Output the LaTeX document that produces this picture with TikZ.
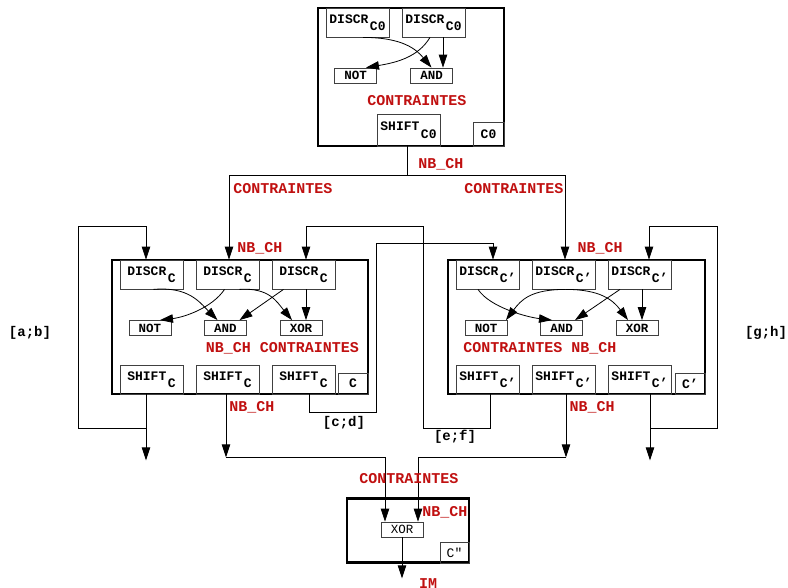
\documentclass[tikz,border=0pt]{standalone}
\usepackage{fontspec}
\setmonofont{Liberation Mono}
\usepackage{tikz}
\usetikzlibrary{arrows.meta}
\definecolor{rougefonce}{RGB}{192,16,16}

\tikzset{
  fleche/.style={-{Triangle[length=13pt,width=8.5pt]}, line width=0.8pt},
  lien/.style={line width=0.8pt},
  cadre/.style={draw, line width=2.6pt, inner sep=0pt},
  bloc/.style={draw=black!75, line width=0.8pt, inner sep=0pt,
    minimum width=63pt, minimum height=29pt, font=\fontsize{13}{13}\selectfont\ttfamily\bfseries},
  porte/.style={draw=black!75, line width=0.8pt, inner sep=0pt,
    minimum width=42pt, minimum height=15pt, font=\fontsize{12.5}{12.5}\selectfont\ttfamily\bfseries},
  etiq/.style={draw=black!75, line width=0.8pt, inner sep=0pt,
    minimum width=30pt, minimum height=21pt, font=\fontsize{13}{13}\selectfont\ttfamily\bfseries},
  texterouge/.style={text=rougefonce, inner sep=0pt, font=\fontsize{15}{15}\selectfont\ttfamily\bfseries},
  intervalle/.style={inner sep=0pt, font=\fontsize{14}{14}\selectfont\ttfamily\bfseries}
}
\newcommand{\indice}[2]{#1\kern1.5pt\raisebox{-7.5pt}{#2}}

\begin{document}
\begin{tikzpicture}[x=1pt,y=-1pt]
  \useasboundingbox (0,0) rectangle (788,587);

  % Module C0
  \node[cadre, minimum width=186pt, minimum height=138pt] (c0) at (411,77) {};
  \node[bloc] (d01) at (357.5,22.5) {\indice{DISCR}{C0}};
  \node[bloc] (d02) at (433.5,22.5) {\indice{DISCR}{C0}};
  \node[porte] (not0) at (355.5,75.5) {NOT};
  \node[porte] (and0) at (431.5,75.5) {AND};
  \node[texterouge] (k0) at (417,101) {CONTRAINTES};
  \node[bloc, minimum height=32pt] (s0) at (408.5,130) {\indice{SHIFT}{C0}};
  \node[etiq, minimum width=31pt, minimum height=24pt] (e0) at (488.5,134) {C0};

  % Module C
  \node[cadre, minimum width=256pt, minimum height=134pt] (c) at (240,327) {};
  \foreach \i/\x in {1/151.5,2/227.5,3/303.5} {
    \node[bloc] (dc\i) at (\x,274.5) {\indice{DISCR}{C}};
    \node[bloc] (sc\i) at (\x,379.5) {\indice{SHIFT}{C}};
  }
  \node[porte] (notc) at (150,328) {NOT};
  \node[porte] (andc) at (225.5,328) {AND};
  \node[porte] (xorc) at (301,328) {XOR};
  \node[texterouge] (kc) at (282.5,348) {NB\_CH CONTRAINTES};
  \node[etiq] (ec) at (353,383.5) {C};

  % Module C'
  \node[cadre, minimum width=257pt, minimum height=134pt] (cp) at (576.5,327) {};
  \foreach \i/\x in {1/487.5,2/563.5,3/639.5} {
    \node[bloc] (dp\i) at (\x,274.5) {\indice{DISCR}{C’}};
    \node[bloc] (sp\i) at (\x,379.5) {\indice{SHIFT}{C’}};
  }
  \node[porte] (notp) at (486,328) {NOT};
  \node[porte] (andp) at (561.5,328) {AND};
  \node[porte] (xorp) at (637,328) {XOR};
  \node[texterouge] (kp) at (540,348) {CONTRAINTES NB\_CH};
  \node[etiq] (ep) at (690,383.5) {C’};

  % Module C"
  \node[cadre, minimum width=122pt, minimum height=64pt] (cs) at (408,530.5) {};
  \node[porte, font=\fontsize{12.5}{12.5}\selectfont\ttfamily] (xorf) at (402,529.5) {XOR};
  \node[etiq, minimum width=29pt, font=\fontsize{13}{13}\selectfont\ttfamily] (es) at (454.5,552.5) {C"};

  % Liaisons internes
  \draw[fleche] ([xshift=5.5pt]d01.south) .. controls +(40,0) and +(-15,-18) .. (and0.north);
  \draw[fleche] ([xshift=-3.5pt]d02.south) .. controls +(-12,20) and +(30,-5) .. ([xshift=10.5pt]not0.north);
  \draw[fleche] ([xshift=9.5pt]d02.south) -- ([xshift=11.5pt]and0.north);

  \draw[fleche] ([xshift=2pt]dc1.south) .. controls +(35,-3) and +(-18,-18) .. ([xshift=-8pt]andc.north);
  \draw[fleche] ([xshift=-3pt]dc2.south) .. controls +(-12,18) and +(25,-3) .. ([xshift=10pt]notc.north);
  \draw[fleche] ([xshift=12pt]dc2.south) .. controls +(30,-2) and +(-15,-18) .. ([xshift=-9pt]xorc.north);
  \draw[fleche] ([xshift=-20pt]dc3.south) -- ([xshift=14pt]andc.north);
  \draw[fleche] ([xshift=2.5pt]dc3.south) -- ([xshift=5pt]xorc.north);

  \draw[fleche] ([xshift=-9.5pt]dp1.south) .. controls +(12,18) and +(-25,-3) .. ([xshift=-9.5pt]andp.north);
  \draw[fleche] ([xshift=2pt]dp2.south) .. controls +(-35,0) and +(15,-20) .. ([xshift=20pt]notp.north);
  \draw[fleche] ([xshift=2pt]dp2.south) .. controls +(35,0) and +(-15,-20) .. ([xshift=-9pt]xorp.north);
  \draw[fleche] ([xshift=-19.5pt]dp3.south) -- ([xshift=13.5pt]andp.north);
  \draw[fleche] ([xshift=2.5pt]dp3.south) -- ([xshift=5pt]xorp.north);

  % Distribution depuis C0
  \draw[lien] ([xshift=-1.5pt]s0.south) -- ++(0,29) coordinate (fourche);
  \draw[fleche] (fourche) -| ([xshift=1.5pt]dc2.north);
  \draw[fleche] (fourche) -| ([xshift=1.5pt]dp2.north);
  \node[texterouge] at (441,164) {NB\_CH};
  \node[texterouge] at (283,189) {CONTRAINTES};
  \node[texterouge] at (514,189) {CONTRAINTES};
  \node[texterouge] at (260,248) {NB\_CH};
  \node[texterouge] at (600,248) {NB\_CH};

  % Boucles de retour
  \coordinate (ab) at (78,226);
  \coordinate (cd1) at (376,412);
  \coordinate (cd2) at (493,243);
  \coordinate (ef1) at (423,428);
  \coordinate (ef2) at (306,226);
  \coordinate (gh) at (717,226);
  \draw[fleche] ([xshift=-5.5pt]sc1.south) -- ++(0,66);
  \draw[fleche] ([xshift=-5.5pt]sc1.south) ++(0,34) -| (ab) -| ([xshift=-5.5pt]dc1.north);
  \draw[fleche] ([xshift=5.5pt]sc3.south) |- (cd1) |- (cd2) -- ([xshift=5.5pt]dp1.north);
  \draw[fleche] ([xshift=2.5pt]sp1.south) |- (ef1) |- (ef2) -- ([xshift=2.5pt]dc3.north);
  \draw[fleche] ([xshift=10.5pt]sp3.south) -- ++(0,66);
  \draw[fleche] ([xshift=10.5pt]sp3.south) ++(0,34) -| (gh) -| ([xshift=9.5pt]dp3.north);
  \node[intervalle] at (30,333) {[a;b]};
  \node[intervalle] at (344,423) {[c;d]};
  \node[intervalle] at (455,437) {[e;f]};
  \node[intervalle] at (766,333) {[g;h]};

  % Vers le module C"
  \draw[fleche] ([xshift=-1.5pt]sc2.south) -- ++(0,63) coordinate (g1);
  \draw[fleche] ([xshift=2.5pt]sp2.south) -- ++(0,63) coordinate (g2);
  \draw[fleche] (g1) -| ([xshift=-17pt]xorf.north);
  \draw[fleche] (g2) -| ([xshift=16pt]xorf.north);
  \draw[fleche] (xorf.south) -- ++(0,41);
  \node[texterouge] at (252,407) {NB\_CH};
  \node[texterouge] at (592,407) {NB\_CH};
  \node[texterouge] at (409,479) {CONTRAINTES};
  \node[texterouge] at (445,512) {NB\_CH};
  \node[texterouge, anchor=north] at (428,578) {IM};
\end{tikzpicture}
\end{document}
